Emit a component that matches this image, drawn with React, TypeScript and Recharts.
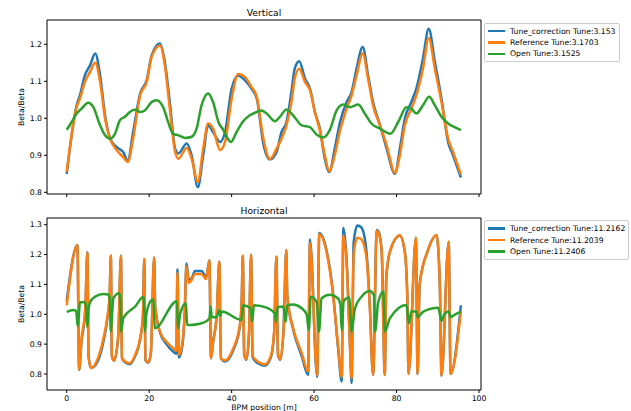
import React from "react";
import { LineChart, Line, XAxis, YAxis, ReferenceArea, Legend } from "recharts";

const FONT = "DejaVu Sans";
const COLORS = ["#1f77b4", "#ff7f0e", "#2ca02c"];

const xTicks = [0, 20, 40, 60, 80, 100];
const xDomain: [number, number] = [-4.785, 100.485];

// ---- Vertical panel ----
const vTicks = [0.8, 0.9, 1.0, 1.1, 1.2];
const vDomain: [number, number] = [0.7954, 1.2657];
const vLegend = ["Tune_correction Tune:3.153", "Reference Tune:3.1703", "Open Tune:3.1525"];

const vX = [
  0, 2.4, 3.2, 4.4, 5.65, 6.9, 8.1, 9.3, 10.5, 12.1,
  13.7, 14.8, 16.1, 17.8, 19.4, 20.6, 22.6, 23.8, 25.0, 26.3,
  27.1, 29.1, 30.3, 31.8, 33.1, 34.3, 35.5, 37.2, 38.4, 40,
  41.6, 43.2, 44.8, 46.1, 47.7, 49.3, 50.9, 52.1, 53.3, 54.5,
  55.3, 56.4, 57.8, 59.0, 60.2, 61.4, 62.6, 63.7, 65.0, 66.3,
  67.9, 69.1, 70.3, 71.8, 73.1, 74.3, 76.0, 77.6, 79.6, 80.8,
  82.0, 83.6, 84.8, 86.4, 87.8, 89.3, 90.9, 92.5, 93.7, 95.6,
];
const vCorr = [
  0.85, 1.035, 1.062, 1.116, 1.143, 1.175, 1.116, 1.008, 0.946, 0.922,
  0.909, 0.885, 0.963, 1.067, 1.103, 1.17, 1.202, 1.152, 1.044, 0.918,
  0.905, 0.932, 0.9, 0.814, 0.9, 0.981, 0.963, 0.936, 0.963, 1.08,
  1.116, 1.103, 1.08, 1.053, 0.93, 0.889, 0.909, 0.963, 0.99, 1.071,
  1.134, 1.154, 1.107, 1.08, 1.017, 0.972, 0.891, 0.855, 0.918, 0.99,
  1.044, 1.071, 1.134, 1.193, 1.116, 1.044, 0.981, 0.918, 0.85, 0.918,
  0.999, 1.044, 1.08, 1.161, 1.242, 1.152, 1.053, 0.936, 0.9, 0.84,
];
const vRef = [
  0.855, 1.03, 1.053, 1.098, 1.125, 1.15, 1.098, 0.999, 0.945, 0.914,
  0.895, 0.882, 0.945, 1.062, 1.098, 1.166, 1.197, 1.143, 1.026, 0.909,
  0.891, 0.92, 0.891, 0.828, 0.918, 0.986, 0.972, 0.914, 0.936, 1.053,
  1.12, 1.112, 1.085, 1.058, 0.945, 0.89, 0.918, 0.945, 0.981, 1.044,
  1.107, 1.134, 1.098, 1.076, 1.017, 0.967, 0.9, 0.857, 0.9, 0.967,
  1.026, 1.062, 1.116, 1.175, 1.107, 1.035, 0.981, 0.927, 0.853, 0.9,
  0.981, 1.026, 1.062, 1.134, 1.217, 1.134, 1.044, 0.945, 0.909, 0.848,
];
const vOpenX = [
  0, 1.2, 2.4, 3.6, 5.2, 6.45, 8.1, 9.3, 10.5, 11.7,
  12.9, 14.1, 15.3, 16.6, 17.8, 19.0, 20.6, 21.8, 23.4, 24.6,
  25.8, 27.1, 28.7, 30.3, 31.5, 32.7, 34.3, 35.5, 36.8, 38.0,
  39.8, 41.2, 42.8, 44.4, 46.1, 47.2, 48.5, 50.5, 51.7, 53.3,
  54.9, 57.0, 59.0, 60.6, 62.2, 63.8, 65.5, 67.1, 68.7, 70.7,
  72.3, 73.9, 76.0, 78.5, 80.4, 82.4, 83.6, 84.8, 86.4, 87.9,
  89.3, 90.9, 92.5, 94.1, 95.6,
];
const vOpen = [
  0.969, 0.99, 1.013, 1.026, 1.042, 1.03, 0.981, 0.954, 0.945, 0.958,
  0.995, 1.004, 1.017, 1.024, 1.017, 1.022, 1.044, 1.049, 1.03, 0.99,
  0.958, 0.954, 0.947, 0.95, 0.972, 1.035, 1.067, 1.044, 0.99, 0.968,
  0.936, 0.963, 0.992, 1.008, 1.017, 1.021, 1.013, 0.992, 1.004, 1.024,
  1.008, 0.981, 0.976, 0.956, 0.948, 0.968, 1.022, 1.037, 1.03, 1.037,
  1.013, 0.986, 0.972, 0.958, 0.99, 1.03, 1.026, 1.013, 1.035, 1.058,
  1.035, 1.004, 0.986, 0.976, 0.968,
];

// ---- Horizontal panel ----
const hTicks = [0.8, 0.9, 1.0, 1.1, 1.2, 1.3];
const hDomain: [number, number] = [0.7464, 1.3224];
const hLegend = ["Tune_correction Tune:11.2162", "Reference Tune:11.2039", "Open Tune:11.2406"];

const hX = [
  0, 2.6, 3.0, 3.6, 4.5, 5.0, 5.3, 5.9, 7.0, 8.0,
  9.0, 9.8, 10.4, 10.7, 10.95, 11.5, 12.5, 13.15, 13.4, 14.1,
  15.3, 16.6, 17.8, 18.5, 18.8, 19.1, 19.8, 20.4, 21.2, 21.45,
  22.6, 24.2, 25.8, 26.6, 26.85, 27.2, 28.0, 28.6, 29.05, 29.6,
  30.3, 31.1, 32.7, 33.8, 34.6, 35.0, 35.5, 36.4, 37.0, 37.4,
  38.4, 40.4, 42.0, 42.45, 42.7, 43.05, 43.6, 44.2, 44.7, 45.1,
  46.5, 48.0, 49.5, 50.3, 50.85, 51.25, 51.8, 52.6, 53.25, 53.5,
  55.0, 57.0, 58.55, 59.0, 60.75, 61.25, 63.0, 64.6, 65.8, 66.7,
  67.1, 67.9, 68.7, 69.1, 69.6, 70.5, 71.5, 72.7, 73.5, 74.3,
  75.2, 75.7, 76.4, 77.15, 77.5, 78.4, 80.8, 82.0, 82.6, 82.9,
  84.7, 85.1, 85.6, 87.5, 89.7, 90.5, 90.9, 92.65, 93.1, 95.6,
];
const hCorr = [
  1.045, 1.232, 0.814, 0.91, 1.01, 1.208, 0.86, 0.82, 0.83, 0.86,
  0.915, 0.98, 1.06, 1.197, 0.86, 0.845, 0.925, 1.196, 0.853, 0.84,
  0.833, 0.86, 0.915, 0.995, 1.185, 0.846, 0.838, 0.868, 1.19, 1.03,
  0.94, 0.9, 0.875, 0.868, 1.15, 0.855, 0.89, 1.0, 1.17, 1.115,
  1.12, 1.145, 1.145, 1.125, 1.18, 0.853, 0.908, 1.0, 1.176, 0.853,
  0.842, 0.88, 0.96, 1.05, 1.196, 0.864, 0.848, 0.93, 1.199, 0.855,
  0.835, 0.828, 0.855, 0.935, 1.193, 0.864, 0.848, 0.95, 1.215, 1.06,
  0.945, 0.86, 0.797, 1.25, 0.79, 1.272, 1.215, 1.07, 0.89, 0.775,
  1.29, 1.18, 0.9, 0.77, 1.24, 1.297, 1.29, 1.21, 1.035, 0.797,
  1.282, 1.275, 1.21, 0.797, 1.12, 1.21, 1.264, 1.21, 1.065, 0.8,
  1.256, 0.8, 1.1, 1.21, 1.265, 1.1, 0.795, 1.243, 0.8, 1.03,
];
const hRef = [
  1.03, 1.232, 0.814, 0.92, 1.02, 1.208, 0.86, 0.82, 0.835, 0.87,
  0.925, 0.985, 1.06, 1.197, 0.86, 0.845, 0.93, 1.196, 0.853, 0.843,
  0.836, 0.864, 0.92, 1.0, 1.185, 0.846, 0.84, 0.87, 1.19, 1.03,
  0.942, 0.908, 0.886, 0.878, 1.14, 0.864, 0.9, 1.0, 1.16, 1.105,
  1.115, 1.135, 1.135, 1.118, 1.18, 0.853, 0.908, 1.0, 1.176, 0.853,
  0.845, 0.886, 0.964, 1.05, 1.196, 0.864, 0.85, 0.93, 1.199, 0.86,
  0.84, 0.832, 0.86, 0.94, 1.193, 0.864, 0.85, 0.95, 1.215, 1.06,
  0.95, 0.87, 0.808, 1.24, 0.795, 1.268, 1.21, 1.065, 0.897, 0.79,
  1.265, 1.17, 0.897, 0.785, 1.2, 1.256, 1.25, 1.19, 1.03, 0.797,
  1.28, 1.27, 1.21, 0.797, 1.12, 1.21, 1.264, 1.21, 1.065, 0.8,
  1.256, 0.8, 1.1, 1.21, 1.265, 1.1, 0.795, 1.243, 0.8, 1.01,
];
const hOpenX = [
  0, 1.6, 2.3, 2.65, 2.95, 3.2, 4.4, 4.75, 5.0, 5.3,
  5.65, 6.9, 8.9, 10.1, 10.45, 10.7, 11.0, 11.3, 12.7, 13.0,
  13.2, 13.7, 16.6, 18.6, 18.85, 19.0, 19.3, 20.6, 21.05, 21.35,
  26.7, 27.0, 27.5, 28.9, 29.2, 29.9, 32.3, 34.6, 34.9, 35.2,
  36.4, 37.0, 37.3, 37.6, 42.4, 42.75, 44.6, 45.0, 45.4, 48.5,
  50.5, 50.75, 51.1, 52.5, 53.1, 53.5, 54.9, 57.0, 58.2, 58.7,
  59.2, 60.6, 61.2, 61.8, 63.8, 65.8, 66.4, 66.7, 67.2, 68.5,
  69.1, 69.9, 71.5, 73.5, 74.5, 74.8, 75.5, 76.8, 77.2, 78.4,
  82.4, 83.0, 83.6, 84.8, 85.1, 86.5, 90.1, 90.9, 91.6, 92.6,
  93.2, 93.7, 95.6,
];
const hOpen = [
  1.008, 1.014, 1.01, 0.96, 1.0, 1.04, 1.04, 1.02, 0.958, 1.02,
  1.04, 1.059, 1.068, 1.066, 1.05, 0.942, 1.0, 1.053, 1.07, 1.05,
  0.942, 0.987, 1.026, 1.059, 1.0, 0.942, 1.0, 1.048, 1.05, 0.953,
  1.044, 0.953, 1.0, 1.037, 0.965, 0.964, 0.968, 0.985, 1.026, 0.99,
  0.992, 1.014, 0.995, 1.009, 0.981, 1.03, 1.02, 0.975, 1.03, 1.022,
  1.003, 0.975, 1.024, 1.026, 0.975, 1.031, 1.033, 1.02, 1.0, 0.947,
  1.059, 1.042, 0.942, 1.053, 1.065, 1.053, 1.03, 0.947, 1.045, 1.056,
  0.942, 1.02, 1.059, 1.078, 1.065, 0.942, 1.035, 1.076, 0.942, 0.987,
  1.031, 0.97, 1.009, 1.009, 0.99, 1.009, 1.022, 0.978, 1.0, 1.009,
  0.99, 0.995, 1.009,
];

const zip = (xs: number[], ys: number[]) => xs.map((x, i) => ({ x, y: ys[i] }));

const tickStyle = { fontSize: 7.7, fill: "#000", fontFamily: FONT };

function FrameLegend({ labels }: { labels: string[] }) {
  return (
    <div
      style={{
        border: "1px solid #cccccc",
        borderRadius: 2,
        background: "rgba(255,255,255,0.8)",
        padding: "2px 3px 1.5px 3px",
        fontFamily: FONT,
        fontSize: 7.7,
        color: "#000",
        whiteSpace: "nowrap",
      }}
    >
      {labels.map((l, i) => (
        <div key={l} style={{ display: "flex", alignItems: "center", height: 11.4 }}>
          <span style={{ display: "inline-block", width: 17, height: 2.5, background: COLORS[i], marginRight: 5 }} />
          <span>{l}</span>
        </div>
      ))}
    </div>
  );
}

type PanelProps = {
  top: number;
  height: number;
  marginTop: number;
  xAxisHeight: number;
  yDomain: [number, number];
  yTicks: number[];
  series: { x: number; y: number }[][];
  labels: string[];
  legendTop: number;
  bottomAxis: boolean;
};

function Panel({ top, height, marginTop, xAxisHeight, yDomain, yTicks, series, labels, legendTop, bottomAxis }: PanelProps) {
  return (
    <div style={{ position: "absolute", left: 0, top, width: 631, height }}>
      <LineChart width={631} height={height} margin={{ top: marginTop, right: 150, bottom: 0, left: 0 }}>
        <XAxis
          type="number"
          dataKey="x"
          domain={xDomain}
          ticks={xTicks}
          interval={0}
          height={xAxisHeight}
          axisLine={false}
          tickSize={3}
          tickMargin={3}
          tickLine={{ stroke: "#000" }}
          tick={bottomAxis ? tickStyle : () => <g />}
          label={
            bottomAxis
              ? { value: "BPM position [m]", position: "insideBottom", offset: 1.5, fontSize: 7.7, fill: "#000", fontFamily: FONT }
              : undefined
          }
        />
        <YAxis
          type="number"
          domain={yDomain}
          ticks={yTicks}
          interval={0}
          width={47}
          axisLine={false}
          tickSize={3}
          tickMargin={2}
          tickLine={{ stroke: "#000" }}
          tick={tickStyle}
          tickFormatter={(v: number) => v.toFixed(1)}
        />
        {series.map((d, i) => (
          <Line
            key={i}
            data={d}
            dataKey="y"
            type="monotone"
            stroke={COLORS[i]}
            strokeWidth={2.5}
            dot={false}
            activeDot={false}
            isAnimationActive={false}
          />
        ))}
        <ReferenceArea
          x1={xDomain[0]}
          x2={xDomain[1]}
          y1={yDomain[0]}
          y2={yDomain[1]}
          fill="none"
          stroke="#000"
          strokeWidth={1}
          ifOverflow="visible"
        />
        <Legend
          layout="vertical"
          align="center"
          verticalAlign="middle"
          wrapperStyle={{ left: 484, top: legendTop, width: "auto" }}
          content={() => <FrameLegend labels={labels} />}
        />
      </LineChart>
    </div>
  );
}

const titleStyle: React.CSSProperties = {
  position: "absolute",
  left: 47,
  width: 434,
  textAlign: "center",
  fontFamily: FONT,
  fontSize: 9.2,
  lineHeight: 1,
  color: "#000",
};

const ylabelStyle = (cy: number): React.CSSProperties => ({
  position: "absolute",
  left: 22.2,
  top: cy,
  transform: "translate(-50%, -50%) rotate(-90deg)",
  fontFamily: FONT,
  fontSize: 7.7,
  lineHeight: 1,
  whiteSpace: "nowrap",
  color: "#000",
});

export default function App() {
  return (
    <div style={{ position: "fixed", left: 0, top: 0, width: 631, height: 411, overflow: "hidden", background: "#fff" }}>
      <Panel
        top={0}
        height={200}
        marginTop={20}
        xAxisHeight={6}
        yDomain={vDomain}
        yTicks={vTicks}
        series={[zip(vX, vCorr), zip(vX, vRef), zip(vOpenX, vOpen)]}
        labels={vLegend}
        legendTop={22.5}
        bottomAxis={false}
      />
      <Panel
        top={200}
        height={211}
        marginTop={18}
        xAxisHeight={21}
        yDomain={hDomain}
        yTicks={hTicks}
        series={[zip(hX, hCorr), zip(hX, hRef), zip(hOpenX, hOpen)]}
        labels={hLegend}
        legendTop={20}
        bottomAxis={true}
      />
      <div style={{ ...titleStyle, top: 7.9 }}>Vertical</div>
      <div style={{ ...titleStyle, top: 206.2 }}>Horizontal</div>
      <div style={ylabelStyle(107)}>Beta/Beta</div>
      <div style={ylabelStyle(304)}>Beta/Beta</div>
    </div>
  );
}
